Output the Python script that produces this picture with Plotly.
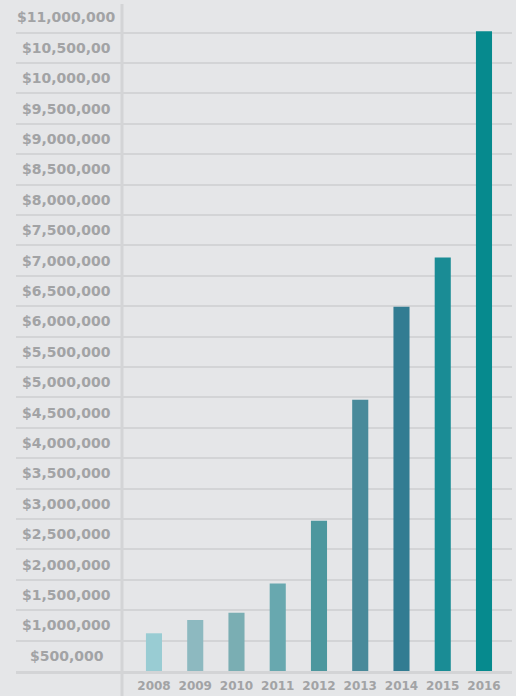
import plotly.graph_objects as go

years = ["2008", "2009", "2010", "2011", "2012", "2013", "2014", "2015", "2016"]
values = [620000, 840000, 960000, 1440000, 2470000, 4460000, 5990000, 6800000, 10520000]
bar_colors = ["#99ccd3", "#8db9c0", "#7aaeb3", "#68a8af", "#4c979e",
              "#498a9a", "#327c92", "#1a8c95", "#068a8e"]

grid_vals = [i * 500000 for i in range(1, 22)]
label_vals = [i * 500000 - 250000 for i in range(1, 23)]
label_text = ["$500,000", "$1,000,000", "$1,500,000", "$2,000,000", "$2,500,000",
              "$3,000,000", "$3,500,000", "$4,000,000", "$4,500,000", "$5,000,000",
              "$5,500,000", "$6,000,000", "$6,500,000", "$7,000,000", "$7,500,000",
              "$8,000,000", "$8,500,000", "$9,000,000", "$9,500,000", "$10,000,00",
              "$10,500,00", "$11,000,000"]

BG = "#e5e6e8"
GRID = "#d3d4d6"
TXT = "#a2a3a5"
FONT = "DejaVu Sans"

fig = go.Figure(go.Bar(
    x=years, y=values, marker=dict(color=bar_colors, line=dict(width=0)),
    width=0.39, hoverinfo="x+y",
))

annotations = [
    dict(x=0.1028, xref="paper", y=v, yref="y", text=f"<b>{t}</b>", showarrow=False,
         xanchor="center", yanchor="middle",
         font=dict(family=FONT, size=14, color=TXT))
    for v, t in zip(label_vals, label_text)
]

shapes = [
    dict(type="line", xref="paper", yref="paper", x0=0.2137, x1=0.2137,
         y0=-0.04, y1=1, line=dict(color=GRID, width=3), layer="above"),
]

fig.update_layout(
    width=516, height=696,
    margin=dict(l=16, r=4, t=4, b=25),
    paper_bgcolor=BG, plot_bgcolor=BG,
    showlegend=False,
    annotations=annotations,
    shapes=shapes,
    xaxis=dict(
        type="category", range=[-3.345, 8.679],
        showgrid=False, zeroline=False,
        showline=True, linecolor=GRID, linewidth=3,
        ticks="", ticklabelstandoff=2,
        tickfont=dict(family=FONT, size=12, color=TXT, weight="bold"),
        fixedrange=True,
    ),
    yaxis=dict(
        range=[0, 10970000],
        tickvals=grid_vals, showticklabels=False,
        showgrid=True, gridcolor=GRID, gridwidth=2,
        zeroline=False, showline=False, ticks="",
        fixedrange=True,
    ),
)

fig.write_html(
    "out.html",
    config={"displayModeBar": False},
    post_script="document.body.style.margin='0';document.body.style.background='#e5e6e8';document.body.style.overflow='hidden';",
)
